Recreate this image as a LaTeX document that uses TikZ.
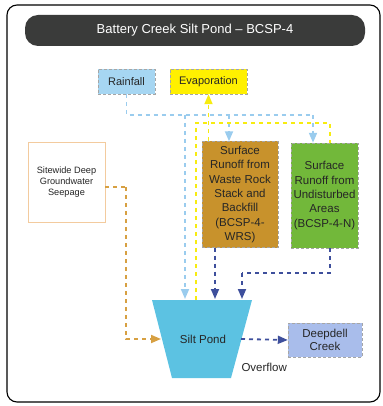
\documentclass[tikz,border=0pt]{standalone}
\usepackage{fontspec}
\setmainfont{Liberation Sans}
\usetikzlibrary{arrows.meta}
\definecolor{titlebg}{HTML}{3A3B3A}
\definecolor{rainc}{HTML}{A6D6F2}
\definecolor{evapc}{HTML}{FFF000}
\definecolor{brownc}{HTML}{C8922C}
\definecolor{greenc}{HTML}{72B83A}
\definecolor{pondc}{HTML}{5CC2E2}
\definecolor{deepc}{HTML}{A9BDEB}
\definecolor{rainline}{HTML}{9ACCEE}
\definecolor{yelline}{HTML}{F7EC10}
\definecolor{dblue}{HTML}{3E4F9C}
\definecolor{orangel}{HTML}{D7A042}
\definecolor{sitebd}{HTML}{F3CB9E}
\tikzset{
  box/.style={draw=gray!70, densely dashed, line width=0.4pt, inner sep=0pt, align=center, text=black!85},
  flow/.style={line width=1.8pt, dash pattern=on 4pt off 4pt},
  tip/.style={-{Triangle[length=10pt,width=8pt]}},
}
\begin{document}
\begin{tikzpicture}[x=1pt,y=-1pt]
\useasboundingbox (0,0) rectangle (382,406);
% outer frame
\draw[line width=1.1pt, rounded corners=10pt] (7,5) rectangle (380,402);
% title
\fill[titlebg, rounded corners=13pt] (25,15) rectangle (365,46);
\node[text=white, font=\fontsize{13}{15}\selectfont] (title) at (195,30.5) {Battery Creek Silt Pond – BCSP-4};
% boxes
\node[box, fill=rainc, minimum width=57pt, minimum height=25pt, font=\fontsize{11}{13}\selectfont] (rain) at (126.5,81.5) {Rainfall};
\node[box, fill=evapc, minimum width=77pt, minimum height=25pt, font=\fontsize{11}{13}\selectfont] (evap) at (208.5,81.5) {Evaporation};
\node[box, draw=sitebd, solid, line width=0.8pt, fill=white, minimum width=77pt, minimum height=80pt, font=\fontsize{9.2}{11.3}\selectfont] (site) at (66.5,182) {Sitewide Deep\\Groundwater\\Seepage};
\node[box, fill=brownc, minimum width=76pt, minimum height=106pt, font=\fontsize{11.5}{14.3}\selectfont] (wrs) at (240,194.5) {Surface\\Runoff from\\Waste Rock\\Stack and\\Backfill\\(BCSP-4-\\WRS)};
\node[box, fill=greenc, minimum width=67pt, minimum height=105pt, font=\fontsize{11.5}{14.3}\selectfont] (und) at (324.5,195.5) {Surface\\Runoff from\\Undisturbed\\Areas\\(BCSP-4-N)};
\node[box, fill=deepc, minimum width=74pt, minimum height=34pt, font=\fontsize{11.5}{13.5}\selectfont] (deep) at (325,340) {Deepdell\\Creek};
% pond
\coordinate (pTL) at (152,300);
\coordinate (pTR) at (252,300);
\coordinate (pBR) at (231,378);
\coordinate (pBL) at (172,378);
\fill[pondc] (pTL) -- (pTR) -- (pBR) -- (pBL) -- cycle;
\node[font=\fontsize{11.5}{13.5}\selectfont, text=black!85] (pond) at (203,339) {Silt Pond};
\node[font=\fontsize{11.5}{13.5}\selectfont, text=black!85, anchor=west] (ovl) at (238,367) {Overflow};
% connector coordinates
\coordinate (rainR) at (313,115);
\coordinate (rainM) at (229,115);
\coordinate (rainP) at (185,115);
\coordinate (rainPin) at (185,299);
\coordinate (yelR) at (330,123);
\coordinate (yelPin) at (196,300);
\coordinate (wrsP) at (215,299);
\coordinate (undJ) at (242,273);
\coordinate (undP) at (242,299);
\coordinate (siteJ) at (126,187);
\coordinate (pondL) at (161,339);
\coordinate (pondR) at (241,339);
% rainfall
\draw[flow, rainline] (rain.south) |- (rainR);
\draw[flow, rainline, tip] (rainR) -- (und.north -| rainR);
\draw[flow, rainline, tip] (rainM) -- (wrs.north -| rainM);
\draw[flow, rainline, tip] (rainP) -- (rainPin);
% evaporation
\draw[flow, yelline] (yelPin) |- (yelR) -- (und.north -| yelR);
\draw[flow, yelline, tip] (wrs.north -| evap.south) -- (evap.south);
% runoff to pond
\draw[flow, dblue, tip] (wrs.south -| wrsP) -- (wrsP);
\draw[flow, dblue] (und.south -| yelR) |- (undJ);
\draw[flow, dblue, tip] (undJ) -- (undP);
% seepage
\draw[flow, orangel] (site.east |- siteJ) -- (siteJ);
\draw[flow, orangel, tip] (siteJ) |- (pondL);
% overflow
\draw[flow, dblue, tip] (pondR) -- (deep.west);
\end{tikzpicture}
\end{document}
